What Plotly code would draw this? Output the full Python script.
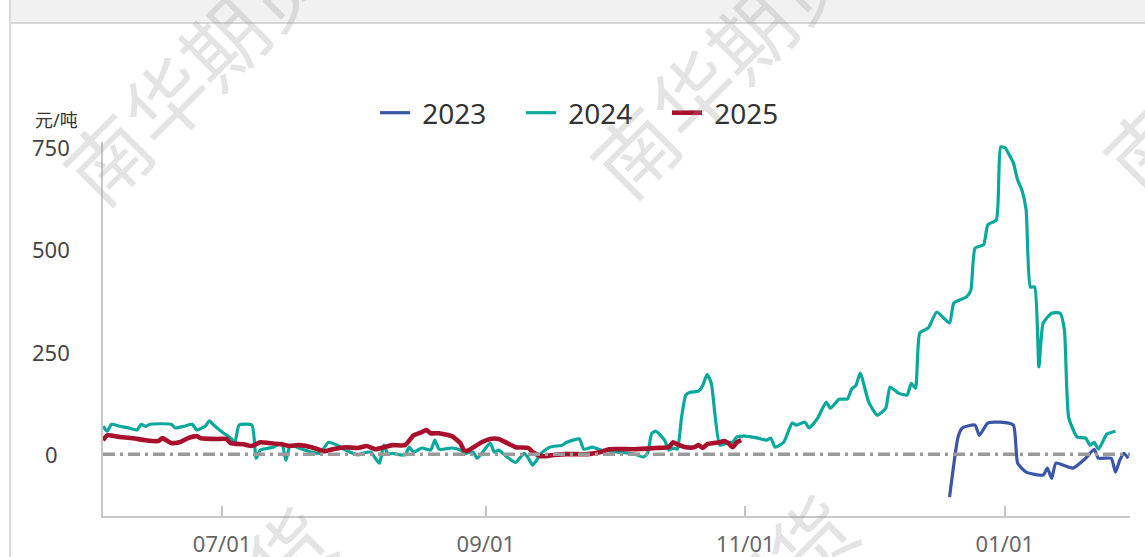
import plotly.graph_objects as go

# ---- data (season axis: Jun -> Jan) ----
s2023 = [("12-19", -105), ("12-21", 42), ("12-22", 64), ("12-25", 71), ("12-26", 46),
         ("12-28", 76), ("12-31", 78), ("01-03", 71), ("01-04", -22), ("01-06", -44),
         ("01-10", -51), ("01-11", -34), ("01-12", -59), ("01-13", -22), ("01-16", -32),
         ("01-17", -34), ("01-20", -10), ("01-22", 12), ("01-23", -10), ("01-26", -10),
         ("01-27", -44), ("01-28", -15), ("01-29", 2), ("01-30", -10)]

s2024 = [("06-03", 68), ("06-04", 56), ("06-05", 73), ("06-07", 68), ("06-09", 64),
         ("06-11", 59), ("06-12", 73), ("06-13", 68), ("06-14", 73), ("06-19", 73),
         ("06-20", 64), ("06-22", 68), ("06-24", 73), ("06-25", 59), ("06-27", 68),
         ("06-28", 81), ("06-29", 71), ("07-01", 54), ("07-03", 39), ("07-04", 29),
         ("07-05", 71), ("07-08", 71), ("07-09", -10), ("07-10", 10), ("07-13", 17),
         ("07-15", 27), ("07-16", -15), ("07-17", 22), ("07-19", 15), ("07-22", 5),
         ("07-24", 2), ("07-26", 29), ("07-28", 22), ("07-30", 10), ("08-02", -2),
         ("08-03", 2), ("08-05", 5), ("08-06", -10), ("08-07", -22), ("08-08", 22),
         ("08-09", 0), ("08-10", 2), ("08-12", -2), ("08-13", -2), ("08-14", 17),
         ("08-15", 5), ("08-17", 15), ("08-19", 10), ("08-20", 34), ("08-21", 12),
         ("08-24", 15), ("08-26", 10), ("08-27", 2), ("08-29", 5), ("08-30", -10),
         ("09-02", 27), ("09-03", 5), ("09-04", 10), ("09-06", -7), ("09-08", -20),
         ("09-10", 2), ("09-11", -10), ("09-12", -27), ("09-14", 2), ("09-16", 17),
         ("09-19", 22), ("09-20", 29), ("09-23", 37), ("09-24", 12), ("09-26", 17),
         ("09-28", 10), ("10-02", 5), ("10-06", 0), ("10-08", -7), ("10-09", 2),
         ("10-10", 51), ("10-11", 56), ("10-13", 34), ("10-14", 10), ("10-15", 15),
         ("10-16", 12), ("10-17", 90), ("10-18", 144), ("10-19", 151), ("10-21", 154),
         ("10-22", 168), ("10-23", 195), ("10-24", 173), ("10-26", 22), ("10-28", 29),
         ("10-29", 29), ("10-30", 42), ("11-01", 44), ("11-04", 39), ("11-06", 34),
         ("11-07", 39), ("11-08", 17), ("11-10", 29), ("11-12", 76), ("11-13", 71),
         ("11-15", 78), ("11-16", 64), ("11-18", 88), ("11-20", 127), ("11-21", 112),
         ("11-23", 134), ("11-25", 135), ("11-26", 159), ("11-27", 168), ("11-28", 198),
         ("11-30", 127), ("12-02", 95), ("12-04", 112), ("12-05", 164), ("12-07", 149),
         ("12-09", 144), ("12-10", 173), ("12-11", 161), ("12-12", 296), ("12-14", 308),
         ("12-16", 347), ("12-19", 320), ("12-20", 369), ("12-23", 384), ("12-24", 400),
         ("12-25", 503), ("12-27", 511), ("12-28", 560), ("12-30", 572), ("12-31", 750),
         ("01-01", 748), ("01-03", 711), ("01-04", 669), ("01-05", 645), ("01-06", 596),
         ("01-07", 408), ("01-08", 408), ("01-09", 213), ("01-10", 320), ("01-12", 344),
         ("01-14", 344), ("01-15", 303), ("01-16", 90), ("01-18", 42), ("01-20", 39),
         ("01-21", 22), ("01-22", 29), ("01-23", 12), ("01-25", 49), ("01-27", 56)]

s2025 = [("06-03", 34), ("06-04", 46), ("06-07", 42), ("06-10", 39), ("06-13", 34),
         ("06-16", 32), ("06-17", 39), ("06-19", 27), ("06-21", 29), ("06-23", 39),
         ("06-25", 44), ("06-26", 39), ("06-30", 37), ("07-02", 37), ("07-03", 27),
         ("07-06", 24), ("07-08", 20), ("07-10", 29), ("07-12", 27), ("07-15", 24),
         ("07-17", 20), ("07-19", 22), ("07-22", 17), ("07-25", 7), ("07-27", 12),
         ("07-30", 17), ("08-02", 15), ("08-04", 20), ("08-06", 12), ("08-08", 17),
         ("08-10", 22), ("08-13", 22), ("08-15", 46), ("08-17", 54), ("08-18", 59),
         ("08-19", 51), ("08-21", 51), ("08-24", 44), ("08-26", 27), ("08-27", 7),
         ("08-28", 10), ("08-31", 29), ("09-02", 37), ("09-04", 37), ("09-06", 27),
         ("09-08", 17), ("09-11", 15), ("09-12", 5), ("09-14", -5), ("09-17", -2),
         ("09-20", 0), ("09-25", 0), ("09-28", 5), ("09-30", 12), ("10-06", 12),
         ("10-11", 15), ("10-14", 17), ("10-15", 29), ("10-16", 24), ("10-18", 17),
         ("10-20", 17), ("10-21", 22), ("10-22", 15), ("10-23", 24), ("10-26", 29),
         ("10-27", 32), ("10-28", 27), ("10-29", 17), ("10-30", 29), ("10-31", 34)]

tick_dates = ["07-01", "09-01", "11-01", "01-01"]
tick_text = ["07/01", "09/01", "11/01", "01/01"]
y_ticks = [0, 250, 500, 750]
unit = "元/吨"
watermark = "南华期货"

series = [("2023", s2023, "#3b56a8", 3.2),
          ("2024", s2024, "#08a99c", 3.2),
          ("2025", s2025, "#a9102b", 4.6)]


def season(md):
    m = int(md[:2])
    return ("2000-" if m >= 6 else "2001-") + md


FONT = "Noto Sans, Noto Sans CJK SC, sans-serif"

fig = go.Figure()
for name, data, color, w in series:
    fig.add_trace(go.Scatter(
        x=[season(d) for d, _ in data], y=[v for _, v in data],
        mode="lines", name=" " + name,
        line=dict(color=color, width=w, shape="spline", smoothing=0.5),
        hoverinfo="skip"))

# plot area in px: left 103, right 1130, top 142, bottom 516
W, H = 1145, 557
L, R, T, B = 103, 1130, 142, 516
pw, ph = R - L, B - T


def px(x):
    return (x - L) / pw


def py(y):
    return (B - y) / ph


shapes = [
    # header band of the card
    dict(type="rect", xref="paper", yref="paper", x0=px(10), x1=px(W + 5), y0=py(23), y1=py(-5),
         fillcolor="#f1f1f1", line=dict(width=0), layer="below"),
    dict(type="line", xref="paper", yref="paper", x0=px(10), x1=px(W + 5), y0=py(23), y1=py(23),
         line=dict(color="#d6d6d6", width=2)),
    dict(type="line", xref="paper", yref="paper", x0=px(10), x1=px(10), y0=py(-5), y1=py(H + 5),
         line=dict(color="#dadada", width=2)),
    # zero reference line
    dict(type="line", xref="paper", yref="y", x0=0, x1=1, y0=0, y1=0,
         line=dict(color="#9a9a9a", width=3.5, dash="12px,5px,3px,5px")),
]

annotations = []
for v in y_ticks:
    annotations.append(dict(xref="paper", yref="y", x=px(51), y=v, text=str(v),
                            showarrow=False, xanchor="center", yanchor="middle",
                            font=dict(family=FONT, size=22, color="#444")))
annotations.append(dict(xref="paper", yref="paper", x=px(56), y=py(120), text=unit,
                        showarrow=False, xanchor="center", yanchor="middle",
                        font=dict(family=FONT, size=18, color="#333")))

for cx, cy in [(195, 72), (722, 65), (1235, 60), (203, 640), (725, 628)]:
    annotations.append(dict(xref="paper", yref="paper", x=px(cx), y=py(cy), text=watermark,
                            showarrow=False, textangle=-45, xanchor="center", yanchor="middle",
                            font=dict(family=FONT, size=82, color="rgba(150,150,150,0.26)")))

fig.update_layout(
    width=W, height=H,
    margin=dict(l=L, r=W - R, t=T, b=H - B, pad=0, autoexpand=False),
    paper_bgcolor="white", plot_bgcolor="white",
    showlegend=True,
    legend=dict(orientation="h", x=px(375), xanchor="left", y=py(113), yanchor="middle",
                font=dict(family=FONT, size=28, color="#333"), itemwidth=30,
                entrywidth=101, entrywidthmode="pixels",
                bgcolor="rgba(0,0,0,0)"),
    xaxis=dict(type="date", range=["2000-06-03", "2001-01-30 10:00"],
               tickvals=[season(d) for d in tick_dates], ticktext=tick_text,
               ticks="inside", ticklen=10, tickwidth=2, tickcolor="#c4c4c4",
               showline=True, linecolor="#c8c8c8", linewidth=2,
               showgrid=False, zeroline=False, automargin=False,
               tickfont=dict(family=FONT, size=22, color="#666"), ticklabelstandoff=8),
    yaxis=dict(range=[-151, 762], showline=True, linecolor="#c8c8c8", linewidth=2,
               showgrid=False, zeroline=False, showticklabels=False, ticks="",
               automargin=False),
    shapes=shapes, annotations=annotations,
)

fig.write_html("out.html", config={"displayModeBar": False},
               post_script="document.body.style.margin='0';")
